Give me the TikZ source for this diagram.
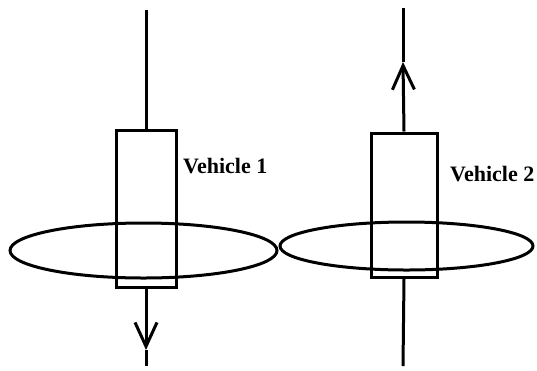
\documentclass[tikz,border=0pt]{standalone}
\usepackage{fontspec}
\setmainfont{Liberation Serif}
\usepackage{tikz}
\usetikzlibrary{shapes.geometric, arrows.meta, positioning}

\tikzset{
  vehicle/.style={draw, line width=3pt, minimum width=60pt, inner sep=0pt},
  ring/.style={draw, ellipse, line width=3pt, inner sep=0pt},
  path/.style={line width=3pt},
  tip/.style={-{Straight Barb[length=24pt, width=22pt, line width=3pt]}},
  vlabel/.style={font=\fontsize{22}{24}\selectfont\bfseries, inner sep=0pt, anchor=base west}
}

\begin{document}
\begin{tikzpicture}[x=1pt, y=-1pt]
  \useasboundingbox (0,0) rectangle (537,370);
  % vehicle 1 moving down
  \node[vehicle, minimum height=157pt] (veh1) at (146,208.5) {};
  \node[ring, minimum width=267pt, minimum height=55pt] (ring1) at (143.5,250.5) {};
  \coordinate (top1) at (146,10);
  \coordinate (tip1) at (146,350);
  \coordinate (bot1) at (146,366);
  \draw[path] (top1) -- (veh1.north);
  \draw[path, tip] (veh1.south) -- (tip1);
  \draw[path] (tip1) -- (bot1);
  \node[vlabel] (lab1) at (183,173) {Vehicle 1};
  % vehicle 2 moving up
  \node[vehicle, minimum width=66pt, minimum height=144pt] (veh2) at (404,205) {};
  \node[ring, minimum width=253pt, minimum height=48pt] (ring2) at (406.5,246) {};
  \coordinate (top2) at (403,8);
  \coordinate (tip2) at (403,62);
  \coordinate (bot2) at (403,366);
  \draw[path] (bot2) -- (veh2.south);
  \draw[path, tip] (veh2.north) -- (tip2);
  \draw[path] (tip2) -- (top2);
  \node[vlabel] (lab2) at (450,181) {Vehicle 2};
\end{tikzpicture}
\end{document}
